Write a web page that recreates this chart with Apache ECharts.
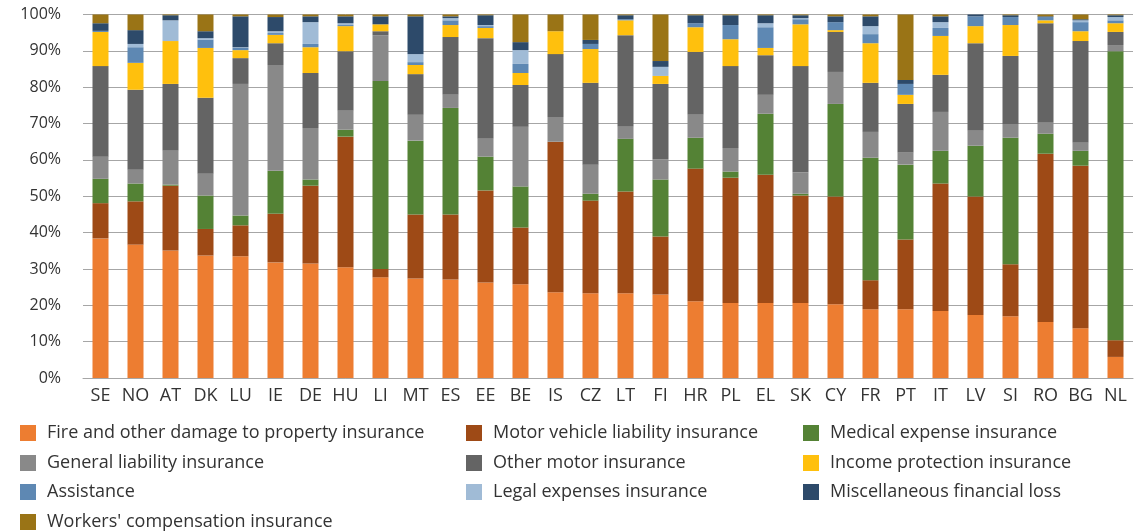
<!DOCTYPE html>
<html>
<head>
<meta charset="utf-8">
<script src="https://cdn.jsdelivr.net/npm/echarts@6/dist/echarts.min.js"></script>
<style>
  html, body { margin: 0; padding: 0; background: #fff; }
  #chart { width: 1136px; height: 532px; }
</style>
</head>
<body>
<div id="chart"></div>
<script>
// Countries, left to right
const countries = ['SE', 'NO', 'AT', 'DK', 'LU', 'IE', 'DE', 'HU', 'LI', 'MT', 'ES', 'EE', 'BE', 'IS', 'CZ',
  'LT', 'FI', 'HR', 'PL', 'EL', 'SK', 'CY', 'FR', 'PT', 'IT', 'LV', 'SI', 'RO', 'BG', 'NL'];

// Share of each line of business (%), stacked bottom to top
const fireProperty   = [38.4, 36.7, 35.1, 33.7, 33.5, 31.8, 31.5, 30.5, 27.7, 27.4, 27.1, 26.3, 25.8, 23.6, 23.3, 23.3, 23.0, 21.1, 20.6, 20.6, 20.6, 20.3, 18.9, 18.9, 18.4, 17.3, 17.0, 15.4, 13.7, 5.8];
const motorLiability = [9.7, 11.9, 17.8, 7.3, 8.5, 13.4, 21.4, 35.9, 2.3, 17.6, 17.9, 25.3, 15.6, 41.4, 25.5, 28.0, 15.9, 36.5, 34.5, 35.3, 29.6, 29.6, 8.0, 19.2, 35.1, 32.6, 14.3, 46.3, 44.7, 4.6];
const medical        = [6.7, 4.9, 0.3, 9.2, 2.7, 11.8, 1.7, 1.9, 51.7, 20.3, 29.3, 9.3, 11.3, 0, 1.9, 14.5, 15.7, 8.5, 1.7, 16.8, 0.5, 25.5, 33.7, 20.6, 9.0, 14.0, 34.8, 5.5, 4.1, 79.5];
const generalLiab    = [6.1, 3.8, 9.3, 6.0, 36.2, 29.1, 14.2, 5.2, 12.6, 7.1, 3.6, 4.9, 16.4, 6.8, 8.0, 3.3, 5.5, 6.3, 6.5, 5.2, 5.8, 8.8, 7.1, 3.3, 10.7, 4.1, 3.8, 3.0, 2.2, 1.7];
const otherMotor     = [24.9, 22.0, 18.4, 20.9, 7.1, 6.0, 15.1, 16.4, 1.1, 11.2, 15.9, 27.7, 11.5, 17.3, 22.5, 25.2, 20.8, 17.3, 22.5, 10.9, 29.3, 11.0, 13.5, 13.4, 10.2, 24.1, 18.7, 27.4, 28.0, 3.6];
const incomeProt     = [9.4, 7.4, 11.8, 13.7, 2.2, 2.3, 7.1, 6.9, 1.9, 2.5, 3.3, 2.8, 3.3, 6.3, 9.3, 4.1, 2.2, 6.8, 7.4, 2.0, 11.5, 0.5, 10.9, 2.5, 10.7, 4.7, 8.5, 0.8, 2.7, 2.4];
const assistance     = [0.3, 4.3, 0, 2.3, 0.7, 0.5, 0.9, 0.3, 0, 0.8, 1.3, 0.5, 2.5, 0, 1.4, 0.3, 0, 1.1, 3.9, 5.7, 1.4, 2.2, 2.5, 3.0, 2.2, 2.7, 2.2, 0.9, 2.5, 0.8];
const legalExp       = [0, 0.9, 5.7, 0.4, 0.1, 0.5, 6.0, 0.5, 0, 2.2, 0.6, 0.3, 3.8, 0, 0, 0, 2.5, 0, 0, 1.1, 0.3, 0, 2.2, 0, 1.6, 0, 0, 0, 0.5, 0.9];
const miscFinLoss    = [2.1, 3.8, 1.4, 1.9, 8.5, 3.9, 1.6, 1.9, 2.2, 10.4, 0.5, 2.7, 2.2, 0, 1.1, 1.1, 1.6, 2.2, 2.7, 2.2, 0.8, 1.6, 2.7, 1.1, 1.6, 0.5, 0.5, 0.2, 0.3, 0.5];
const workersComp    = [2.4, 4.3, 0.2, 4.6, 0.5, 0.7, 0.5, 0.5, 0.5, 0.5, 0.5, 0.2, 7.6, 4.6, 7.0, 0.2, 12.8, 0.2, 0.2, 0.2, 0.2, 0.5, 0.5, 18.0, 0.5, 0, 0.2, 0.5, 1.3, 0.2];

const yTicks = [0, 10, 20, 30, 40, 50, 60, 70, 80, 90, 100];

const seriesDefs = [
  { name: 'Fire and other damage to property insurance', data: fireProperty, color: '#ED7D31' },
  { name: 'Motor vehicle liability insurance', data: motorLiability, color: '#9E4A16' },
  { name: 'Medical expense insurance', data: medical, color: '#548235' },
  { name: 'General liability insurance', data: generalLiab, color: '#898989' },
  { name: 'Other motor insurance', data: otherMotor, color: '#646464' },
  { name: 'Income protection insurance', data: incomeProt, color: '#FFC00D' },
  { name: 'Assistance', data: assistance, color: '#5E88B3' },
  { name: 'Legal expenses insurance', data: legalExp, color: '#A0BBD6' },
  { name: 'Miscellaneous financial loss', data: miscFinLoss, color: '#2D4A6A' },
  { name: "Workers' compensation insurance", data: workersComp, color: '#9A7416' }
];

const font = '"Open Sans", sans-serif';
const legendText = { color: '#333', fontSize: 18, fontFamily: font };

// legend grid: three columns, four rows (row centres 432, 462, 491, 521)
const colLeft = [20, 466, 803];
const rowMid = [433, 463, 492, 522];
const legendPos = [[0, 0], [1, 0], [2, 0], [0, 1], [1, 1], [2, 1], [0, 2], [1, 2], [2, 2], [0, 3]];

const legends = seriesDefs.map((s, i) => ({
  data: [s.name],
  left: colLeft[legendPos[i][0]],
  top: rowMid[legendPos[i][1]] - 12,
  padding: 0,
  itemWidth: 16, itemHeight: 16, itemGap: 10,
  icon: 'rect', selectedMode: false,
  textStyle: Object.assign({ lineHeight: 24, padding: [0, 0, 0, 6] }, legendText)
}));

const chart = echarts.init(document.getElementById('chart'));
chart.setOption({
  animation: false,
  textStyle: { fontFamily: font },
  grid: { left: 83, right: 3, top: 14.5, bottom: 154, containLabel: false },
  legend: legends,
  xAxis: {
    type: 'category', data: countries,
    axisTick: { show: false },
    axisLine: { lineStyle: { color: '#a6a6a6', width: 1 } },
    axisLabel: { color: '#333', fontSize: 18, margin: 9, interval: 0 }
  },
  yAxis: {
    type: 'value', min: yTicks[0], max: yTicks[yTicks.length - 1], interval: 10,
    axisLabel: { color: '#333', fontSize: 16, margin: 22, formatter: v => v + '%' },
    splitLine: { lineStyle: { color: '#a6a6a6', width: 1 } },
    axisLine: { show: false }, axisTick: { show: false }
  },
  series: seriesDefs.map(s => ({
    name: s.name, type: 'bar', stack: 'total', data: s.data,
    barWidth: 16, itemStyle: { color: s.color }
  }))
});
</script>
</body>
</html>
